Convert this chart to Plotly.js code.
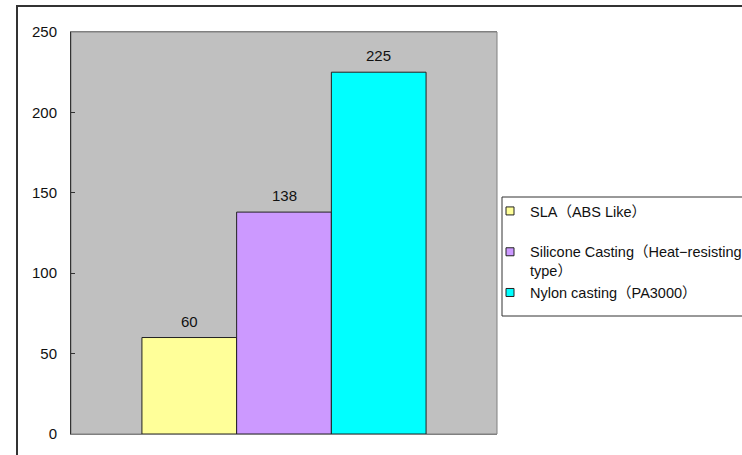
<!DOCTYPE html>
<html>
<head>
<meta charset="utf-8">
<script src="https://cdn.plot.ly/plotly-3.0.1.min.js"></script>
<style>
  html, body { margin: 0; padding: 0; background: #fff; }
  #chart { width: 742px; height: 455px; }
</style>
</head>
<body>
<div id="chart"></div>
<script>
// Material / process series, one bar each
const seriesNames = [
  'SLA（ABS Like）',
  'Silicone Casting（Heat−resisting<br>type）',
  'Nylon casting（PA3000）'
];
const seriesValues = [60, 138, 225];
const seriesColors = ['#ffff99', '#cc99ff', '#00ffff'];
const category = [0];
const yTicks = [0, 50, 100, 150, 200, 250];

const fontFam = 'Liberation Sans, Arial, Noto Sans CJK JP, sans-serif';
const BARGAP = 0.333;

const traces = [];
seriesNames.forEach((name, i) => {
  traces.push({
    type: 'bar',
    x: category,
    y: [seriesValues[i]],
    name: name,
    showlegend: false,
    marker: { color: seriesColors[i], line: { color: '#222', width: 1 } },
    hoverinfo: 'skip'
  });
});
seriesNames.forEach((name, i) => {
  // small square legend keys
  traces.push({
    type: 'scatter',
    mode: 'markers',
    x: [null],
    y: [null],
    name: name,
    legendgroup: i === 0 ? 'a' : 'b',
    marker: { symbol: 'square', size: 8, color: seriesColors[i], line: { color: '#222', width: 1 } }
  });
});

// value labels centred over each grouped bar
const n = seriesValues.length;
const barW = (1 - BARGAP) / n;
const annotations = seriesValues.map((v, i) => ({
  xref: 'x', yref: 'y',
  x: category[0] + (i - (n - 1) / 2) * barW,
  y: v,
  text: String(v),
  showarrow: false,
  yanchor: 'bottom',
  yshift: 6,
  font: { family: fontFam, size: 15, color: '#111' }
}));

const L = 71, R = 497, T = 32, B = 434, W = 742, H = 455;
const pw = R - L, ph = B - T;
const px = v => (v - L) / pw;
const py = v => 1 - (v - T) / ph;

const layout = {
  width: W,
  height: H,
  margin: { l: L, r: W - R, t: T, b: H - B, pad: 0, autoexpand: false },
  paper_bgcolor: '#ffffff',
  plot_bgcolor: '#c0c0c0',
  barmode: 'group',
  bargap: BARGAP,
  bargroupgap: 0,
  showlegend: true,
  font: { family: fontFam, color: '#111' },
  annotations: annotations,
  xaxis: {
    range: [-0.5, 0.5],
    showticklabels: false,
    ticks: '',
    showgrid: false,
    zeroline: false,
    showline: true,
    linecolor: '#808080',
    linewidth: 1,
    mirror: true,
    fixedrange: true
  },
  yaxis: {
    range: [0, 250],
    tickvals: yTicks,
    ticktext: yTicks.map(String),
    ticks: 'inside',
    ticklen: 4,
    tickcolor: '#333',
    tickfont: { family: fontFam, size: 15, color: '#111' },
    ticklabelstandoff: 10,
    showgrid: false,
    zeroline: false,
    showline: true,
    linecolor: '#333',
    linewidth: 1,
    fixedrange: true
  },
  legend: {
    x: px(490),
    y: py(195),
    xanchor: 'left',
    yanchor: 'top',
    bgcolor: 'rgba(0,0,0,0)',
    borderwidth: 0,
    font: { family: fontFam, size: 14.5, color: '#111' },
    traceorder: 'grouped',
    tracegroupgap: 19,
    valign: 'top',
    itemwidth: 30
  },
  shapes: [
    // plot area frame
    { type: 'rect', xref: 'paper', yref: 'paper', x0: 0, x1: 1, y0: 0, y1: 1,
      line: { color: '#808080', width: 1 }, layer: 'below' },
    // outer chart frame
    { type: 'rect', xref: 'paper', yref: 'paper', x0: px(17), x1: px(800), y0: py(520), y1: py(6),
      line: { color: '#333', width: 2 }, fillcolor: 'rgba(0,0,0,0)', layer: 'below' },
    // legend box
    { type: 'rect', xref: 'paper', yref: 'paper', x0: px(502), x1: px(800), y0: py(316), y1: py(197),
      line: { color: '#333', width: 1 }, fillcolor: '#ffffff', layer: 'above' }
  ]
};

Plotly.newPlot('chart', traces, layout, { staticPlot: true, displayModeBar: false });
</script>
</body>
</html>
